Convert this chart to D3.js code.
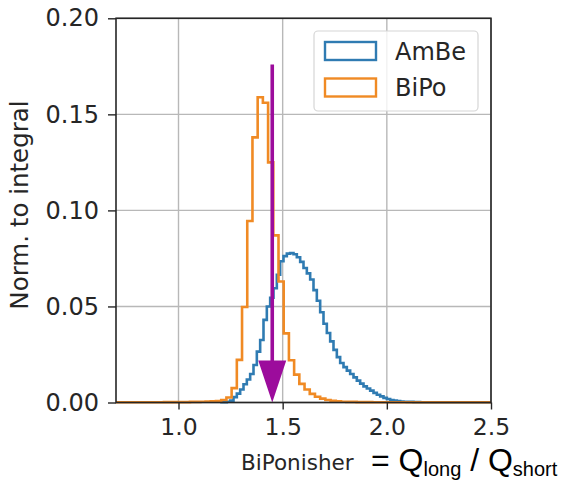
<!DOCTYPE html>
<html>
<head>
<meta charset="utf-8">
<script src="https://cdn.jsdelivr.net/npm/d3@7"></script>
<style>
  html, body { margin: 0; padding: 0; background: #ffffff; }
  svg { display: block; }
</style>
</head>
<body>
<svg id="chart" width="562" height="482"></svg>
<script>
// ---- data ----
const seriesNames = ["AmBe", "BiPo"];
const seriesColors = ["#2f7bb2", "#f08a24"];

// AmBe: fixed-width bins starting at amBeStart
const amBeStart = 1.2;
const amBeWidth = 0.016;
const amBeValues = [
  0.0001, 0.0002, 0.0004, 0.0010, 0.0028, 0.0046, 0.0068, 0.0095, 0.0120, 0.0148,
  0.0195, 0.0265, 0.0325, 0.0430, 0.0500, 0.0545, 0.0595, 0.0665, 0.0735, 0.0762,
  0.0775, 0.0778, 0.0772, 0.0756, 0.0732, 0.0700, 0.0672, 0.0640, 0.0585, 0.0530,
  0.0470, 0.0410, 0.0362, 0.0318, 0.0274, 0.0236, 0.0206, 0.0184, 0.0166, 0.0148,
  0.0131, 0.0114, 0.0098, 0.0084, 0.0073, 0.0062, 0.0050, 0.0040, 0.0032, 0.0024,
  0.0018, 0.0013, 0.0010, 0.0007, 0.0005, 0.0004, 0.0003, 0.0003, 0.0002, 0.0002,
  0.0001, 0.0001, 0.0001, 0.0001, 0.0001, 0.0001, 0.0001, 0.0001, 0.0001, 0.0001,
  0.0001, 0.0001, 0.0001, 0.0001, 0.0001, 0.0001, 0.0001, 0.0001, 0.0001, 0.0001,
  0.0001, 0.0001
];

// BiPo: fixed-width bins starting at biPoStart
const biPoStart = 0.68;
const biPoWidth = 0.025;
const biPoValues = [
  0.0001, 0.0001, 0.0001, 0.0001, 0.0001, 0.0001, 0.0001, 0.0001, 0.0001, 0.0001,
  0.0002, 0.0002, 0.0002, 0.0002, 0.0002, 0.0003, 0.0003, 0.0004, 0.0005, 0.0006,
  0.0008, 0.0013, 0.0026, 0.0075, 0.0222, 0.0497, 0.0945, 0.1380, 0.1589, 0.1560,
  0.1250, 0.0870, 0.0630, 0.0360, 0.0220, 0.0145, 0.0097, 0.0068, 0.0045, 0.0030,
  0.0020, 0.0013, 0.0009, 0.0006, 0.0004, 0.0003, 0.0003, 0.0002, 0.0002, 0.0002,
  0.0001, 0.0001, 0.0001, 0.0001, 0.0001, 0.0001, 0.0001, 0.0001, 0.0001, 0.0001,
  0.0001, 0.0001, 0.0001, 0.0001, 0.0001, 0.0001, 0.0001, 0.0001, 0.0001, 0.0001,
  0.0001, 0.0001, 0.0001, 0.0001
];

const xTicks = [1.0, 1.5, 2.0, 2.5];
const xTickLabels = ["1.0", "1.5", "2.0", "2.5"];
const yTicks = [0.00, 0.05, 0.10, 0.15, 0.20];
const yTickLabels = ["0.00", "0.05", "0.10", "0.15", "0.20"];
const xDomain = [0.7, 2.5];
const yDomain = [0, 0.2];

// cut marker (vertical arrow)
const arrowX = 1.45;
const arrowTop = 0.176;
const arrowColor = "#9c0c9c";

// ---- layout ----
const svg = d3.select("#chart");
const plot = { left: 116, right: 491, top: 18.3, bottom: 402.5 };

const x = d3.scaleLinear().domain(xDomain).range([plot.left, plot.right]);
const y = d3.scaleLinear().domain(yDomain).range([plot.bottom, plot.top]);

const tickFont = "DejaVu Sans, sans-serif";
const formulaFont = "Liberation Sans, Arial, sans-serif";

svg.append("defs").append("clipPath").attr("id", "plotClip")
  .append("rect")
  .attr("x", plot.left).attr("y", plot.top - 2)
  .attr("width", plot.right - plot.left).attr("height", plot.bottom - plot.top + 4);

// grid
const grid = svg.append("g");
grid.selectAll("line.gx").data(xTicks).join("line")
  .attr("x1", d => x(d)).attr("x2", d => x(d))
  .attr("y1", plot.top).attr("y2", plot.bottom)
  .attr("stroke", "#b8b8b8").attr("stroke-width", 1.4);
grid.selectAll("line.gy").data(yTicks).join("line")
  .attr("x1", plot.left).attr("x2", plot.right)
  .attr("y1", d => y(d)).attr("y2", d => y(d))
  .attr("stroke", "#b8b8b8").attr("stroke-width", 1.4);

// step outline of a histogram, closed down to zero on both ends
function stepPoints(start, width, values) {
  const pts = [[start, 0]];
  values.forEach((v, i) => {
    pts.push([start + i * width, v]);
    pts.push([start + (i + 1) * width, v]);
  });
  pts.push([start + values.length * width, 0]);
  return pts;
}

const line = d3.line().x(d => x(d[0])).y(d => y(d[1]));

const hists = svg.append("g").attr("clip-path", "url(#plotClip)");
[[amBeStart, amBeWidth, amBeValues], [biPoStart, biPoWidth, biPoValues]].forEach((h, i) => {
  hists.append("path")
    .attr("d", line(stepPoints(h[0], h[1], h[2])))
    .attr("fill", "none")
    .attr("stroke", seriesColors[i])
    .attr("stroke-width", 2.6)
    .attr("stroke-linejoin", "miter");
});

// arrow
const arrowG = svg.append("g");
const headH = 42, headW = 28;
arrowG.append("line")
  .attr("x1", x(arrowX)).attr("x2", x(arrowX))
  .attr("y1", y(arrowTop)).attr("y2", y(0) - headH + 2)
  .attr("stroke", arrowColor).attr("stroke-width", 3.6);
arrowG.append("path")
  .attr("d", `M${x(arrowX) - headW / 2},${y(0) - headH} L${x(arrowX) + headW / 2},${y(0) - headH} L${x(arrowX)},${y(0)} Z`)
  .attr("fill", arrowColor);

// frame
svg.append("rect")
  .attr("x", plot.left).attr("y", plot.top)
  .attr("width", plot.right - plot.left).attr("height", plot.bottom - plot.top)
  .attr("fill", "none").attr("stroke", "#262626").attr("stroke-width", 1.6);

// x axis
const xAxis = d3.axisBottom(x).tickValues(xTicks)
  .tickFormat((d, i) => xTickLabels[i]).tickSize(7).tickPadding(9);
const gx = svg.append("g").attr("transform", `translate(0,${plot.bottom})`).call(xAxis);
gx.select(".domain").remove();
gx.selectAll(".tick line").attr("stroke", "#262626").attr("stroke-width", 1.4);
gx.selectAll(".tick text").attr("font-family", tickFont).attr("font-size", 23.5).attr("fill", "#262626");

// y axis
const yAxis = d3.axisLeft(y).tickValues(yTicks)
  .tickFormat((d, i) => yTickLabels[i]).tickSize(8).tickPadding(9);
const gy = svg.append("g").attr("transform", `translate(${plot.left},0)`).call(yAxis);
gy.select(".domain").remove();
gy.selectAll(".tick line").attr("stroke", "#262626").attr("stroke-width", 1.4);
gy.selectAll(".tick text").attr("font-family", tickFont).attr("font-size", 24).attr("fill", "#262626");

// y label
svg.append("text")
  .attr("transform", `translate(28,205) rotate(-90)`)
  .attr("text-anchor", "middle")
  .attr("font-family", tickFont).attr("font-size", 24.5).attr("fill", "#262626")
  .text("Norm. to integral");

// x label
svg.append("text").attr("x", 241).attr("y", 470).attr("fill", "#262626")
  .attr("font-family", tickFont).attr("font-size", 21.5).text("BiPonisher");
const xf = svg.append("text").attr("x", 371).attr("y", 471).attr("fill", "#000")
  .attr("font-family", formulaFont);
xf.append("tspan").attr("font-size", 32).text("= Q");
xf.append("tspan").attr("font-size", 20).attr("dy", 5).text("long");
xf.append("tspan").attr("font-size", 32).attr("dy", -5).text(" / Q");
xf.append("tspan").attr("font-size", 20).attr("dy", 5).text("short");

// legend
const lg = svg.append("g");
lg.append("rect")
  .attr("x", 314).attr("y", 31).attr("width", 164).attr("height", 80)
  .attr("rx", 4).attr("ry", 4)
  .attr("fill", "#ffffff").attr("fill-opacity", 0.8)
  .attr("stroke", "#d6d6d6").attr("stroke-width", 1.2);
seriesNames.forEach((name, i) => {
  const cy = 51 + i * 36.5;
  lg.append("rect")
    .attr("x", 325).attr("y", cy - 9).attr("width", 51).attr("height", 18)
    .attr("fill", "none").attr("stroke", seriesColors[i]).attr("stroke-width", 2.4);
  lg.append("text")
    .attr("x", 395).attr("y", cy + 8.5)
    .attr("font-family", tickFont).attr("font-size", 24).attr("fill", "#262626")
    .text(name);
});
</script>
</body>
</html>
